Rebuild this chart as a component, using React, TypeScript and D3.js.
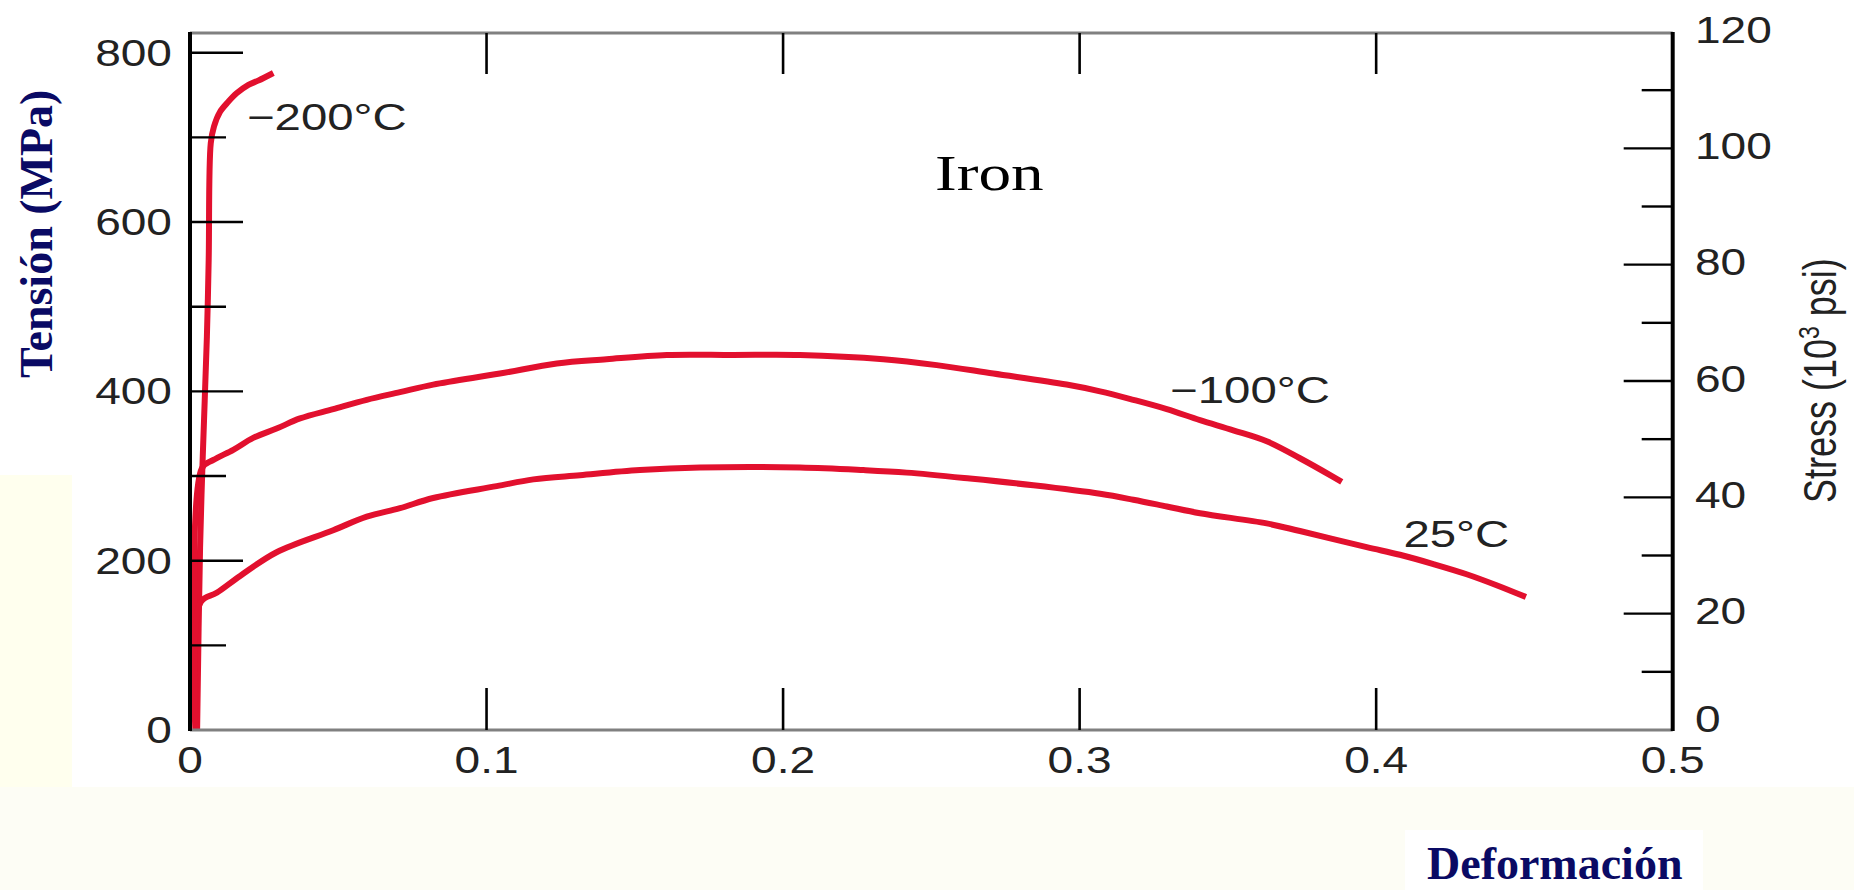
import React from "react";
import * as d3 from "d3";

// Iron, engineering stress (MPa) vs strain
const strainTicks = [0, 0.1, 0.2, 0.3, 0.4, 0.5];
const strainLabels = ["0", "0.1", "0.2", "0.3", "0.4", "0.5"];
const mpaTicks = [0, 200, 400, 600, 800];
const mpaMinor = [100, 300, 500, 700];
const ksiTicks = [0, 20, 40, 60, 80, 100, 120];
const ksiMinor = [10, 30, 50, 70, 90, 110];

const temps = ["−200°C", "−100°C", "25°C"];
const tempLabelStrain = [0.0192, 0.3305, 0.4092];
const tempLabelMpa = [709, 386, 216];

const ironM200: [number, number][] = [
  [0.0024, 0], [0.0034, 216], [0.0043, 323], [0.0057, 465], [0.0063, 555], [0.007, 693],
  [0.0081, 713], [0.0101, 730], [0.0129, 742], [0.0157, 752], [0.0197, 762], [0.023, 767],
  [0.0281, 776],
];

const ironM100: [number, number][] = [
  [0.0022, 0], [0.004, 309], [0.0079, 319], [0.0146, 331], [0.0213, 345], [0.0292, 356],
  [0.0371, 368], [0.0483, 379], [0.0596, 390], [0.0708, 399], [0.082, 408], [0.1045, 421],
  [0.1237, 433], [0.1405, 438], [0.1608, 443], [0.1832, 443], [0.2057, 443], [0.2338, 438],
  [0.2518, 431], [0.2709, 421], [0.2956, 408], [0.3069, 400], [0.3181, 390], [0.3294, 379],
  [0.3406, 366], [0.3518, 354], [0.3631, 341], [0.3743, 321], [0.3855, 299], [0.3884, 293],
];

const iron25: [number, number][] = [
  [0.0018, 0], [0.0036, 151], [0.009, 162], [0.0169, 182], [0.0292, 210], [0.0483, 236],
  [0.0596, 252], [0.0708, 262], [0.082, 274], [0.1034, 288], [0.1158, 296], [0.1315, 301],
  [0.1517, 307], [0.172, 310], [0.2057, 310], [0.2271, 307], [0.2417, 304], [0.263, 297],
  [0.2844, 289], [0.3069, 279], [0.3181, 272], [0.3294, 264], [0.3406, 256], [0.3631, 244],
  [0.3743, 235], [0.3968, 216], [0.408, 207], [0.4193, 196], [0.4305, 184], [0.4406, 171],
  [0.4505, 157],
];

const curves = [ironM200, ironM100, iron25];

const W = 1854;
const H = 890;
const RED = "#E2102E";
const NAVY = "#0a0a64";
const SX = 1.28; // the source figure is stretched horizontally
const sans = "'Liberation Sans', Arial, sans-serif";
const serif = "'Liberation Serif', 'Times New Roman', serif";

function Stretched({ x, y, anchor = "start", size, family = sans, fill = "#222", children }: any) {
  return (
    <text
      transform={`translate(${x},${y}) scale(${SX},1)`}
      textAnchor={anchor}
      fontSize={size}
      fontFamily={family}
      fill={fill}
    >
      {children}
    </text>
  );
}

export default function App() {
  const x = d3.scaleLinear().domain([0, 0.5]).range([190, 1672.7]);
  const yL = d3.scaleLinear().domain([0, 800]).range([730, 52.7]);
  const yR = d3.scaleLinear().domain([0, 120]).range([730, 32]);
  const top = 33;
  const bottom = 730;

  const line = d3
    .line<[number, number]>()
    .x((d) => x(d[0]))
    .y((d) => yL(d[1]))
    .curve(d3.curveCatmullRom.alpha(0.5));

  return (
    <svg
      width={W}
      height={H}
      style={{ position: "absolute", left: 0, top: 0, background: "#fff" }}
    >
      {/* cream page areas around the pasted figure */}
      <rect x={0} y={475} width={72} height={H - 475} fill="#FFFFEE" />
      <rect x={0} y={787} width={W} height={H - 787} fill="#FDFDF5" />
      <rect x={1405} y={830} width={298} height={H - 830} fill="#fff" />

      {/* curves */}
      {curves.map((c, i) => (
        <path
          key={i}
          d={line(c) || ""}
          fill="none"
          stroke={RED}
          strokeWidth={6}
          strokeLinejoin="round"
          strokeLinecap="butt"
        />
      ))}

      {/* frame */}
      <line x1={x(0)} x2={x(0.5)} y1={top} y2={top} stroke="#808080" strokeWidth={3} />
      <line x1={x(0)} x2={x(0.5)} y1={bottom} y2={bottom} stroke="#808080" strokeWidth={3} />
      <line x1={x(0)} x2={x(0)} y1={top - 1} y2={bottom + 1} stroke="#000" strokeWidth={4} />
      <line x1={x(0.5)} x2={x(0.5)} y1={top - 1} y2={bottom + 1} stroke="#000" strokeWidth={4} />

      {/* strain ticks, top and bottom */}
      {strainTicks.slice(1, -1).map((t) => (
        <g key={t}>
          <line x1={x(t)} x2={x(t)} y1={bottom} y2={bottom - 42} stroke="#000" strokeWidth={2.6} />
          <line x1={x(t)} x2={x(t)} y1={top} y2={top + 41} stroke="#000" strokeWidth={2.6} />
        </g>
      ))}
      {strainTicks.map((t, i) => (
        <Stretched key={t} x={x(t)} y={773} anchor="middle" size={36}>
          {strainLabels[i]}
        </Stretched>
      ))}

      {/* MPa axis */}
      {mpaTicks.slice(1).map((t) => (
        <line key={t} x1={x(0)} x2={x(0) + 53} y1={yL(t)} y2={yL(t)} stroke="#000" strokeWidth={2.4} />
      ))}
      {mpaMinor.map((t) => (
        <line key={t} x1={x(0)} x2={x(0) + 36} y1={yL(t)} y2={yL(t)} stroke="#000" strokeWidth={2.4} />
      ))}
      {mpaTicks.map((t) => (
        <Stretched key={t} x={172} y={yL(t) + 12.9} anchor="end" size={36}>
          {String(t)}
        </Stretched>
      ))}

      {/* ksi axis */}
      {ksiTicks.slice(1, -1).map((t) => (
        <line key={t} x1={x(0.5)} x2={x(0.5) - 49} y1={yR(t)} y2={yR(t)} stroke="#000" strokeWidth={2.4} />
      ))}
      {ksiMinor.map((t) => (
        <line key={t} x1={x(0.5)} x2={x(0.5) - 31} y1={yR(t)} y2={yR(t)} stroke="#000" strokeWidth={2.4} />
      ))}
      {ksiTicks.map((t) => (
        <Stretched key={t} x={1695} y={yR(t) + (t === 0 ? 2 : 10.5)} size={36}>
          {String(t)}
        </Stretched>
      ))}

      {/* curve labels */}
      {temps.map((s, i) => (
        <Stretched key={s} x={x(tempLabelStrain[i])} y={yL(tempLabelMpa[i])} size={37}>
          {s}
        </Stretched>
      ))}
      <Stretched x={935} y={190} size={51} family={serif} fill="#000">
        Iron
      </Stretched>

      {/* right axis title */}
      <text
        transform={`translate(1836,503) scale(${SX},1) rotate(-90)`}
        fontSize={36}
        fontFamily={sans}
        fill="#222"
      >
        Stress (10
        <tspan dy={-13} fontSize={23}>3</tspan>
        <tspan dy={13}> psi)</tspan>
      </text>

      {/* overlay titles */}
      <text
        transform="translate(52,378) rotate(-90)"
        fontSize={46}
        fontWeight="bold"
        fontFamily={serif}
        fill={NAVY}
      >
        Tensión (MPa)
      </text>
      <text x={1427} y={879} fontSize={46} fontWeight="bold" fontFamily={serif} fill={NAVY}>
        Deformación
      </text>
    </svg>
  );
}
